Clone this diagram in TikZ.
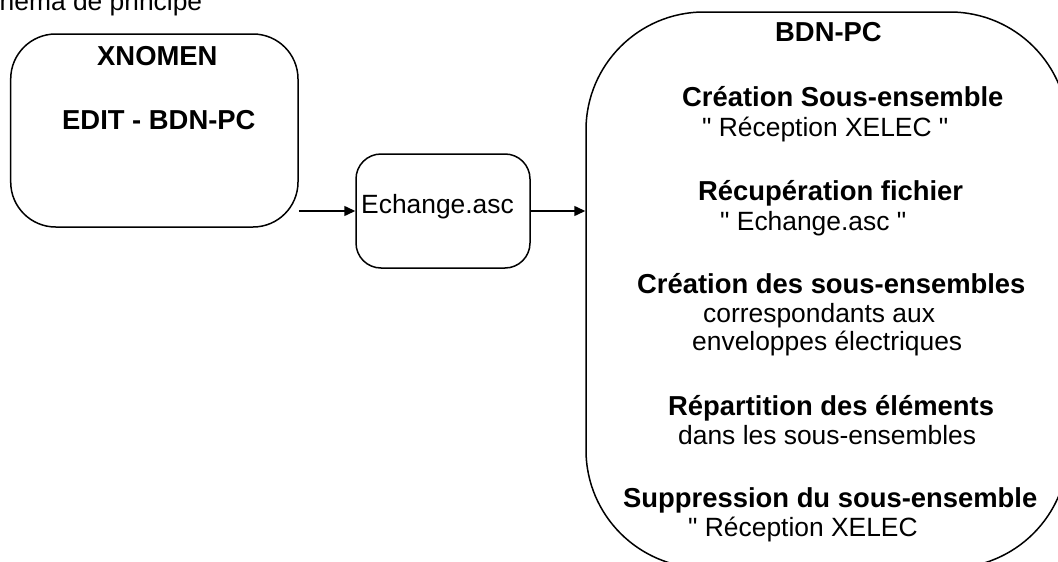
\documentclass[tikz,border=0pt]{standalone}
\usepackage{fontspec}
\setmainfont{Liberation Sans}[Ligatures=TeXOff]
\usetikzlibrary{arrows.meta}
\begin{document}
\begin{tikzpicture}[x=1pt,y=-1pt]
\tikzset{
  box/.style={draw, line width=1.5pt, inner sep=0pt},
  reg/.style={font=\fontsize{26.4}{30}\selectfont, inner sep=0pt, anchor=base west},
  bld/.style={font=\fontsize{27.4}{30}\selectfont\bfseries, inner sep=0pt, anchor=base west},
  link/.style={line width=1.5pt, -{Triangle[length=11pt,width=10pt]}}
}
\useasboundingbox (0,0) rectangle (1058,562);
\clip (0,0) rectangle (1058,562);

% page heading
\node[reg] (titre) at (-0.5,10.5) {hema de principe};

% source application
\node[box, rounded corners=45pt, minimum width=287.3pt, minimum height=193pt] (xnomen) at (154.35,130.5) {};
\node[bld] (xnomenA) at (97,65) {XNOMEN};
\node[bld] (xnomenB) at (62,129) {EDIT - BDN-PC};

% exchange file
\node[box, rounded corners=25pt, minimum width=174pt, minimum height=114pt] (echange) at (443,211) {};
\node[reg] (echangeT) at (361,213) {Echange.asc};

% target application
\node[box, rounded corners=118pt, minimum width=482pt, minimum height=556pt] (bdn) at (827,290) {};
\node[bld] (b0) at (775,41) {BDN-PC};
\node[bld] (b1) at (682,106) {Création Sous-ensemble};
\node[reg] (b2) at (702,136) {" Réception XELEC "};
\node[bld] (b3) at (698,200) {Récupération fichier};
\node[reg] (b4) at (720,230) {" Echange.asc "};
\node[bld] (b5) at (637,293) {Création des sous-ensembles};
\node[reg] (b6) at (703,322) {correspondants aux};
\node[reg] (b7) at (692,350) {enveloppes électriques};
\node[bld] (b8) at (668,415) {Répartition des éléments};
\node[reg] (b9) at (678,444) {dans les sous-ensembles};
\node[bld] (b10) at (623,507) {Suppression du sous-ensemble};
\node[reg] (b11) at (688,536) {" Réception XELEC};

% data flow
\draw[link] (xnomen.east |- echange.west) -- (echange.west);
\draw[link] (echange.east) -- (echange.east -| bdn.west);
\end{tikzpicture}
\end{document}
